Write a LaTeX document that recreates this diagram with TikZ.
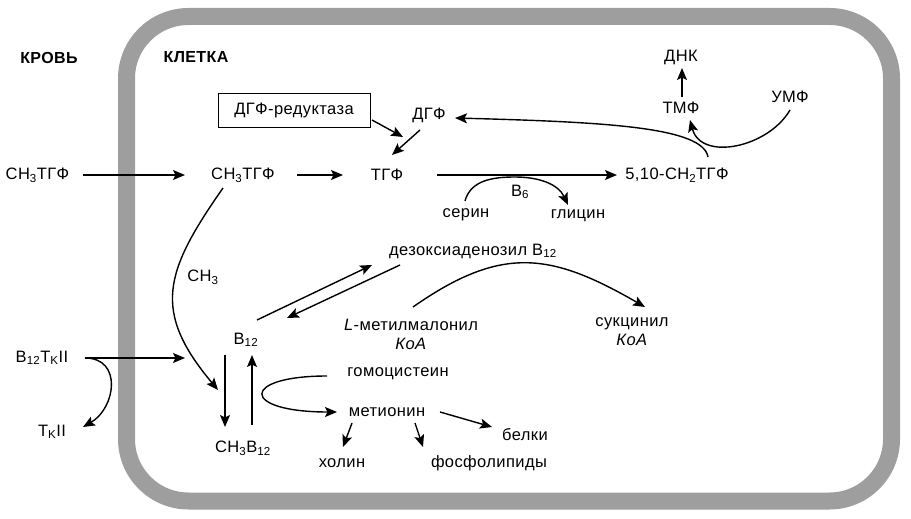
\documentclass[tikz,border=0pt]{standalone}
\usepackage{fontspec}
\setmainfont[LetterSpace = 2.5]{Liberation Sans}
\usetikzlibrary{arrows.meta}
\usetikzlibrary{positioning}
\tikzset{lbl/.style = {font = \fontsize{16.5}{19}\selectfont, inner sep = 2pt}}
\tikzset{hdr/.style = {lbl, font = \fontsize{16}{19}\selectfont\bfseries}}
\tikzset{arr/.style = {-{Stealth[length = 12pt, width = 10pt, inset = 2.5pt]}, line width = 1.4pt}}

\begin{document}
\begin{tikzpicture}[x = 1pt, y = 1pt]
      \useasboundingbox (0, 0) rectangle (911, -519);
      \draw [line width = 17pt, black!38, rounded corners = 62pt] (126.5, -16.5) rectangle (891.5, -501);

      \node [hdr] (krov) at (49, -58) {КРОВЬ};
      \node [hdr] (klet) at (196, -57) {КЛЕТКА};
      \node [lbl, draw, line width = 0.8pt, minimum width = 152pt, minimum height = 34pt] (red) at (294, -110) {ДГФ-редуктаза};
      \node [lbl] (dgf) at (429, -115) {ДГФ};
      \node [lbl] (ch3a) at (37.5, -175) {CH\textsubscript{3}ТГФ};
      \node [lbl] (ch3b) at (243, -175) {CH\textsubscript{3}ТГФ};
      \node [lbl] (tgf) at (387, -175) {ТГФ};
      \node [lbl] (mtgf) at (677, -175) {5,10-CH\textsubscript{2}ТГФ};
      \node [lbl] (b6) at (520, -192) {B\textsubscript{6}};
      \node [lbl] (ser) at (466, -215) {серин};
      \node [lbl] (gly) at (578, -216) {глицин};
      \node [lbl] (dnk) at (681, -57) {ДНК};
      \node [lbl] (tmf) at (681, -108) {ТМФ};
      \node [lbl] (umf) at (790, -97) {УМФ};
      \node [lbl] (dez) at (473, -251) {дезоксиаденозил B\textsubscript{12}};
      \node [lbl, align = center] (mmal) at (411, -334) {\textit{L}-метилмалонил\\\textit{КоА}};
      \node [lbl, align = center] (suk) at (632, -332) {сукцинил\\\textit{КоА}};
      \node [lbl] (b12) at (246, -340) {B\textsubscript{12}};
      \node [lbl] (ch3) at (203, -277) {CH\textsubscript{3}};
      \node [lbl] (btk) at (42, -358) {B\textsubscript{12}T\textsubscript{K}II};
      \node [lbl] (tk) at (52, -432) {T\textsubscript{K}II};
      \node [lbl] (ch3b12) at (243, -448) {CH\textsubscript{3}B\textsubscript{12}};
      \node [lbl] (hcys) at (398, -374) {гомоцистеин};
      \node [lbl] (met) at (387, -412) {метионин};
      \node [lbl] (chol) at (342, -463) {холин};
      \node [lbl] (phos) at (489, -463) {фосфолипиды};
      \node [lbl] (prot) at (525, -435) {белки};
      \coordinate (b6top) at (515, -177);

      \draw [arr] ([xshift = 45.5pt]ch3a.center) -- ([xshift = -58pt]ch3b.center);
      \draw [arr] ([xshift = 54pt]ch3b.center) -- ([xshift = -44pt]tgf.center);
      \draw [arr] ([xshift = 50pt]tgf.center) -- ([xshift = -60pt]mtgf.center);
      \draw [arr] ([shift = {(-1, 14)}]ser.center) to [out = 75, in = 180] (b6top) to [out = 0, in = 115] ([shift = {(-10, 11)}]gly.center);
      \draw [arr] ([shift = {(78, -10)}]red.center) -- ([shift = {(16, 38)}]tgf.center);
      \draw [arr] ([shift = {(-9, -15)}]dgf.center) -- ([shift = {(5, 20)}]tgf.center);
      \draw [arr] ([shift = {(31, 18)}]mtgf.center) .. controls +(-5, 30) and +(150, -4) .. ([shift = {(26, -3)}]dgf.center);
      \draw [arr] ([shift = {(0, -13)}]umf.center) to [out = -120, in = -75, looseness = 1.1] ([shift = {(9, -12)}]tmf.center);
      \draw [arr] ([shift = {(1, 11)}]tmf.center) -- ([shift = {(1, -11)}]dnk.center);
      \draw [arr] ([shift = {(-20, -13)}]ch3b.center) to [out = -125, in = 130, looseness = 1.3] ([shift = {(-25, 58)}]ch3b12.center);
      \draw [arr] ([xshift = 43pt]btk.center) -- ([shift = {(-61, -18)}]b12.center);
      \draw [arr] ([xshift = 43pt]btk.center) to [out = 0, in = 30, looseness = 1.4] ([shift = {(31, 5)}]tk.center);
      \draw [arr] ([shift = {(-21, -15)}]b12.center) -- ([shift = {(-18, 21)}]ch3b12.center);
      \draw [arr] ([shift = {(9, 23)}]ch3b12.center) -- ([shift = {(6, -15)}]b12.center);
      \draw [arr] ([shift = {(-71, -2)}]hcys.center) .. controls +(-87, 0) and +(-97, 0) .. ([xshift = -50pt]met.center);
      \draw [arr] ([shift = {(11, 20)}]b12.center) -- ([shift = {(-101, -14)}]dez.center);
      \draw [arr] ([shift = {(-73, -14)}]dez.center) -- ([shift = {(41, 22)}]b12.center);
      \draw [arr] ([shift = {(2, 27)}]mmal.center) to [out = 35, in = 150, looseness = 1.2] ([shift = {(13, 25)}]suk.center);
      \draw [arr] ([xshift = 53pt]met.center) -- ([shift = {(-33, 8)}]prot.center);
      \draw [arr] ([shift = {(-35, -11)}]met.center) -- ([shift = {(1, 16)}]chol.center);
      \draw [arr] ([shift = {(28, -11)}]met.center) -- ([shift = {(-66, 16)}]phos.center);
    \end{tikzpicture}
\end{document}
